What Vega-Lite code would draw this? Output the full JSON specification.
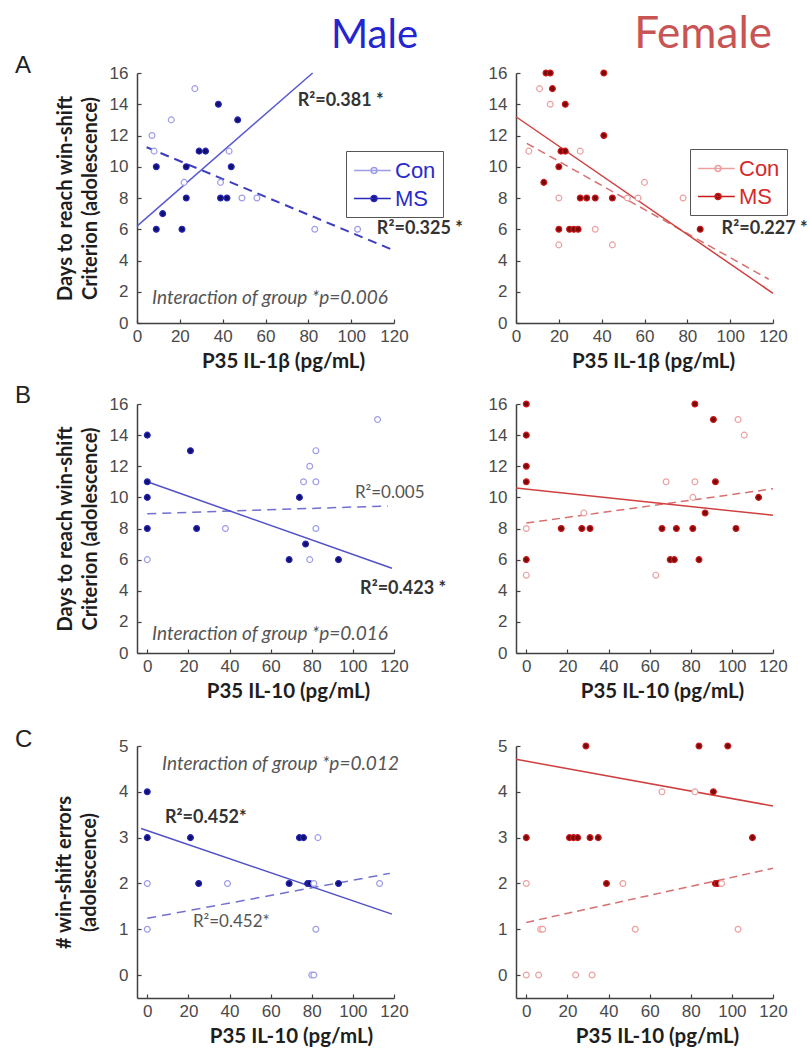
{
"$schema":"https://vega.github.io/schema/vega-lite/v6.json",
"background":"white",
"padding":{"left":15,"top":13,"right":0,"bottom":0},
"config":{
 "view":{"stroke":null},
 "font":"Lato",
 "axis":{"domainColor":"#404040","domainWidth":1.5,"tickColor":"#404040","tickWidth":1.2,"tickSize":-4,"labelFont":"Liberation Sans","labelFontSize":17,"labelColor":"#4a4a4a","titleFont":"Lato","titleFontSize":20.5,"titleFontWeight":"bold","titleColor":"#1e1e1e","grid":false,"labelOverlap":false,"labelFlush":false},
 "axisX":{"labelPadding":9,"titlePadding":7},
 "axisY":{"labelPadding":13,"titleLineHeight":25,"titleFontSize":20}
},
"datasets":{
"pts":[
{"p":"AM","g":"MS","x":9,"y":6},{"p":"AM","g":"MS","x":21,"y":6},{"p":"AM","g":"MS","x":12,"y":7},{"p":"AM","g":"MS","x":9,"y":10},{"p":"AM","g":"MS","x":23,"y":10},{"p":"AM","g":"MS","x":23,"y":8},{"p":"AM","g":"MS","x":29,"y":11},{"p":"AM","g":"MS","x":32,"y":11},{"p":"AM","g":"MS","x":38,"y":14},{"p":"AM","g":"MS","x":47,"y":13},{"p":"AM","g":"MS","x":44,"y":10},{"p":"AM","g":"MS","x":39,"y":8},{"p":"AM","g":"MS","x":42,"y":8},
{"p":"AM","g":"Con","x":27,"y":15},{"p":"AM","g":"Con","x":16,"y":13},{"p":"AM","g":"Con","x":7,"y":12},{"p":"AM","g":"Con","x":8,"y":11},{"p":"AM","g":"Con","x":22,"y":9},{"p":"AM","g":"Con","x":43,"y":11},{"p":"AM","g":"Con","x":39,"y":9},{"p":"AM","g":"Con","x":49,"y":8},{"p":"AM","g":"Con","x":56,"y":8},{"p":"AM","g":"Con","x":83,"y":6},{"p":"AM","g":"Con","x":103,"y":6},
{"p":"AF","g":"MS","x":14,"y":16},{"p":"AF","g":"MS","x":16,"y":16},{"p":"AF","g":"MS","x":17,"y":15},{"p":"AF","g":"MS","x":23,"y":14},{"p":"AF","g":"MS","x":41,"y":16},{"p":"AF","g":"MS","x":41,"y":12},{"p":"AF","g":"MS","x":21,"y":11},{"p":"AF","g":"MS","x":23,"y":11},{"p":"AF","g":"MS","x":20,"y":10},{"p":"AF","g":"MS","x":13,"y":9},{"p":"AF","g":"MS","x":20,"y":6},{"p":"AF","g":"MS","x":25,"y":6},{"p":"AF","g":"MS","x":27,"y":6},{"p":"AF","g":"MS","x":29,"y":6},{"p":"AF","g":"MS","x":30,"y":8},{"p":"AF","g":"MS","x":33,"y":8},{"p":"AF","g":"MS","x":37,"y":8},{"p":"AF","g":"MS","x":45,"y":8},{"p":"AF","g":"MS","x":86,"y":6},
{"p":"AF","g":"Con","x":11,"y":15},{"p":"AF","g":"Con","x":16,"y":14},{"p":"AF","g":"Con","x":6,"y":11},{"p":"AF","g":"Con","x":30,"y":11},{"p":"AF","g":"Con","x":20,"y":8},{"p":"AF","g":"Con","x":20,"y":5},{"p":"AF","g":"Con","x":37,"y":6},{"p":"AF","g":"Con","x":45,"y":5},{"p":"AF","g":"Con","x":52,"y":8},{"p":"AF","g":"Con","x":57,"y":8},{"p":"AF","g":"Con","x":60,"y":9},{"p":"AF","g":"Con","x":78,"y":8},
{"p":"BM","g":"MS","x":0,"y":14},{"p":"BM","g":"MS","x":21,"y":13},{"p":"BM","g":"MS","x":0,"y":11},{"p":"BM","g":"MS","x":0,"y":10},{"p":"BM","g":"MS","x":0,"y":8},{"p":"BM","g":"MS","x":24,"y":8},{"p":"BM","g":"MS","x":74,"y":10},{"p":"BM","g":"MS","x":77,"y":7},{"p":"BM","g":"MS","x":69,"y":6},{"p":"BM","g":"MS","x":93,"y":6},
{"p":"BM","g":"Con","x":112,"y":15},{"p":"BM","g":"Con","x":82,"y":13},{"p":"BM","g":"Con","x":79,"y":12},{"p":"BM","g":"Con","x":76,"y":11},{"p":"BM","g":"Con","x":82,"y":11},{"p":"BM","g":"Con","x":38,"y":8},{"p":"BM","g":"Con","x":82,"y":8},{"p":"BM","g":"Con","x":0,"y":6},{"p":"BM","g":"Con","x":79,"y":6},
{"p":"BF","g":"MS","x":0,"y":16},{"p":"BF","g":"MS","x":0,"y":14},{"p":"BF","g":"MS","x":0,"y":12},{"p":"BF","g":"MS","x":0,"y":11},{"p":"BF","g":"MS","x":0,"y":6},{"p":"BF","g":"MS","x":17,"y":8},{"p":"BF","g":"MS","x":27,"y":8},{"p":"BF","g":"MS","x":31,"y":8},{"p":"BF","g":"MS","x":66,"y":8},{"p":"BF","g":"MS","x":70,"y":6},{"p":"BF","g":"MS","x":72,"y":6},{"p":"BF","g":"MS","x":73,"y":8},{"p":"BF","g":"MS","x":81,"y":8},{"p":"BF","g":"MS","x":82,"y":16},{"p":"BF","g":"MS","x":84,"y":6},{"p":"BF","g":"MS","x":87,"y":9},{"p":"BF","g":"MS","x":91,"y":15},{"p":"BF","g":"MS","x":92,"y":11},{"p":"BF","g":"MS","x":102,"y":8},{"p":"BF","g":"MS","x":113,"y":10},
{"p":"BF","g":"Con","x":0,"y":8},{"p":"BF","g":"Con","x":0,"y":5},{"p":"BF","g":"Con","x":63,"y":5},{"p":"BF","g":"Con","x":68,"y":11},{"p":"BF","g":"Con","x":82,"y":11},{"p":"BF","g":"Con","x":81,"y":10},{"p":"BF","g":"Con","x":103,"y":15},{"p":"BF","g":"Con","x":106,"y":14},{"p":"BF","g":"Con","x":28,"y":9},
{"p":"CM","g":"MS","x":0,"y":4},{"p":"CM","g":"MS","x":0,"y":3},{"p":"CM","g":"MS","x":21,"y":3},{"p":"CM","g":"MS","x":25,"y":2},{"p":"CM","g":"MS","x":74,"y":3},{"p":"CM","g":"MS","x":76,"y":3},{"p":"CM","g":"MS","x":69,"y":2},{"p":"CM","g":"MS","x":78,"y":2},{"p":"CM","g":"MS","x":79,"y":2},{"p":"CM","g":"MS","x":93,"y":2},
{"p":"CM","g":"Con","x":83,"y":3},{"p":"CM","g":"Con","x":0,"y":2},{"p":"CM","g":"Con","x":39,"y":2},{"p":"CM","g":"Con","x":81,"y":2},{"p":"CM","g":"Con","x":113,"y":2},{"p":"CM","g":"Con","x":0,"y":1},{"p":"CM","g":"Con","x":82,"y":1},{"p":"CM","g":"Con","x":80,"y":0},{"p":"CM","g":"Con","x":81,"y":0},
{"p":"CF","g":"MS","x":0,"y":3},{"p":"CF","g":"MS","x":21,"y":3},{"p":"CF","g":"MS","x":23,"y":3},{"p":"CF","g":"MS","x":25,"y":3},{"p":"CF","g":"MS","x":31,"y":3},{"p":"CF","g":"MS","x":35,"y":3},{"p":"CF","g":"MS","x":29,"y":5},{"p":"CF","g":"MS","x":39,"y":2},{"p":"CF","g":"MS","x":84,"y":5},{"p":"CF","g":"MS","x":98,"y":5},{"p":"CF","g":"MS","x":91,"y":4},{"p":"CF","g":"MS","x":92,"y":2},{"p":"CF","g":"MS","x":93,"y":2},{"p":"CF","g":"MS","x":110,"y":3},
{"p":"CF","g":"Con","x":0,"y":2},{"p":"CF","g":"Con","x":7,"y":1},{"p":"CF","g":"Con","x":8,"y":1},{"p":"CF","g":"Con","x":0,"y":0},{"p":"CF","g":"Con","x":6,"y":0},{"p":"CF","g":"Con","x":24,"y":0},{"p":"CF","g":"Con","x":32,"y":0},{"p":"CF","g":"Con","x":47,"y":2},{"p":"CF","g":"Con","x":53,"y":1},{"p":"CF","g":"Con","x":66,"y":4},{"p":"CF","g":"Con","x":82,"y":4},{"p":"CF","g":"Con","x":95,"y":2},{"p":"CF","g":"Con","x":103,"y":1}
],
"fit":[
{"p":"AM","g":"MS","x":0,"y":6.2},{"p":"AM","g":"MS","x":82,"y":16},
{"p":"AM","g":"Con","x":4.5,"y":11.25},{"p":"AM","g":"Con","x":119,"y":4.7},
{"p":"AF","g":"MS","x":0,"y":13.2},{"p":"AF","g":"MS","x":120,"y":1.9},
{"p":"AF","g":"Con","x":5,"y":11.5},{"p":"AF","g":"Con","x":118,"y":2.8},
{"p":"BM","g":"MS","x":0,"y":11.0},{"p":"BM","g":"MS","x":119,"y":5.45},
{"p":"BM","g":"Con","x":0,"y":8.95},{"p":"BM","g":"Con","x":117,"y":9.45},
{"p":"BF","g":"MS","x":-5,"y":10.6},{"p":"BF","g":"MS","x":120,"y":8.85},
{"p":"BF","g":"Con","x":0,"y":8.35},{"p":"BF","g":"Con","x":120,"y":10.55},
{"p":"CM","g":"MS","x":-3,"y":3.2},{"p":"CM","g":"MS","x":119,"y":1.33},
{"p":"CM","g":"Con","x":0,"y":1.24},{"p":"CM","g":"Con","x":118,"y":2.22},
{"p":"CF","g":"MS","x":-5,"y":4.71},{"p":"CF","g":"MS","x":120,"y":3.69},
{"p":"CF","g":"Con","x":0,"y":1.15},{"p":"CF","g":"Con","x":120,"y":2.33}
],
"notes":[
{"p":"AM","k":"b","x":75,"y":14.2,"t":"R²=0.381 *"},
{"p":"AM","k":"b","x":112,"y":6.0,"t":"R²=0.325 *"},
{"p":"AM","k":"i","x":7,"y":1.6,"t":"Interaction of group *p=0.006"},
{"p":"AF","k":"b","x":96,"y":6.0,"t":"R²=0.227 *"},
{"p":"BM","k":"n","x":101,"y":10.3,"t":"R²=0.005"},
{"p":"BM","k":"b","x":103.5,"y":4.1,"t":"R²=0.423 *"},
{"p":"BM","k":"i","x":2.3,"y":1.2,"t":"Interaction of group *p=0.016"},
{"p":"CM","k":"i","x":7.2,"y":4.6,"t":"Interaction of group *p=0.012"},
{"p":"CM","k":"b","x":8.6,"y":3.42,"t":"R²=0.452*"},
{"p":"CM","k":"n","x":22.2,"y":1.16,"t":"R²=0.452*"}
]
},
"vconcat":[
{"hconcat":[
 {"width":257,"height":250,
  "title":{"text":"Male","anchor":"end","frame":"group","dx":24,"offset":8,"fontSize":40,"font":"Lato","fontWeight":"normal","color":"#2424d0"},
  "encoding":{
   "x":{"field":"x","type":"quantitative","scale":{"domain":[0,120],"nice":false,"zero":false},"axis":{"values":[0,20,40,60,80,100,120],"title":"P35 IL-1β (pg/mL)","titleX":146}},
   "y":{"field":"y","type":"quantitative","scale":{"domain":[0,16],"nice":false,"zero":false},"axis":{"values":[0,2,4,6,8,10,12,14,16],"title":["Days to reach win-shift","Criterion (adolescence)"],"titlePadding":9}}},
  "layer":[
   {"data":{"name":"fit"},"transform":[{"filter":"datum.p=='AM' && datum.g=='Con'"}],"mark":{"type":"line","stroke":"#3c3cc0","strokeWidth":2,"strokeDash":[9,6]}},
   {"data":{"name":"fit"},"transform":[{"filter":"datum.p=='AM' && datum.g=='MS'"}],"mark":{"type":"line","stroke":"#5a5ad0","strokeWidth":1.5}},
   {"data":{"name":"pts"},"transform":[{"filter":"datum.p=='AM'"}],"mark":{"type":"point","shape":"circle","opacity":1,"strokeWidth":1.2,"size":34},
    "encoding":{
     "fill":{"field":"g","type":"nominal","scale":{"domain":["Con","MS"],"range":["#ffffff","#10106e"]},"legend":{"orient":"none","legendX":209,"legendY":78,"direction":"vertical","title":null,"symbolType":"M-1,0H2.2M1.0,0A0.26,0.26,0,1,1,0.48,0A0.26,0.26,0,1,1,1.0,0","symbolSize":529,"symbolStrokeWidth":1.5,"labelFontSize":22,"labelFont":"Liberation Sans","labelColor":"#2a2acc","labelOffset":17,"strokeColor":"#555","fillColor":"white","padding":7,"rowPadding":4}},
     "stroke":{"field":"g","type":"nominal","scale":{"domain":["Con","MS"],"range":["#9c9ce8","#2828b8"]},"legend":{"orient":"none","legendX":209,"legendY":78,"direction":"vertical","title":null,"symbolType":"M-1,0H2.2M1.0,0A0.26,0.26,0,1,1,0.48,0A0.26,0.26,0,1,1,1.0,0","symbolSize":529,"symbolStrokeWidth":1.5,"labelFontSize":22,"labelFont":"Liberation Sans","labelColor":"#2a2acc","labelOffset":17,"strokeColor":"#555","fillColor":"white","padding":7,"rowPadding":4}}}},
   {"data":{"name":"notes"},"transform":[{"filter":"datum.p=='AM' && datum.k=='b'"}],"mark":{"type":"text","align":"left","baseline":"middle","font":"Lato","fontSize":18,"fontWeight":"bold","fill":"#333"},"encoding":{"text":{"field":"t"}}},
   {"data":{"name":"notes"},"transform":[{"filter":"datum.p=='AM' && datum.k=='i'"}],"mark":{"type":"text","align":"left","baseline":"middle","font":"Lato","fontSize":19,"fontStyle":"italic","fill":"#555"},"encoding":{"text":{"field":"t"}}}
  ]},
 {"width":257,"height":250,
  "title":{"text":"Female","anchor":"end","frame":"group","dx":-1,"offset":7,"fontSize":44,"font":"Lato","fontWeight":"normal","color":"#c85454"},
  "encoding":{
   "x":{"field":"x","type":"quantitative","scale":{"domain":[0,120],"nice":false,"zero":false},"axis":{"values":[0,20,40,60,80,100,120],"title":"P35 IL-1β (pg/mL)","titleX":137}},
   "y":{"field":"y","type":"quantitative","scale":{"domain":[0,16],"nice":false,"zero":false},"axis":{"values":[0,2,4,6,8,10,12,14,16],"title":null}}},
  "layer":[
   {"data":{"name":"fit"},"transform":[{"filter":"datum.p=='AF' && datum.g=='Con'"}],"mark":{"type":"line","stroke":"#d87070","strokeWidth":1.5,"strokeDash":[8,5]}},
   {"data":{"name":"fit"},"transform":[{"filter":"datum.p=='AF' && datum.g=='MS'"}],"mark":{"type":"line","stroke":"#d04040","strokeWidth":1.5}},
   {"data":{"name":"pts"},"transform":[{"filter":"datum.p=='AF'"}],"mark":{"type":"point","shape":"circle","opacity":1,"strokeWidth":1.2,"size":34},
    "encoding":{
     "fill":{"field":"g","type":"nominal","scale":{"domain":["Con","MS"],"range":["#ffffff","#7a0a0a"]},"legend":{"orient":"none","legendX":174,"legendY":76,"direction":"vertical","title":null,"symbolType":"M-1,0H2.2M1.0,0A0.26,0.26,0,1,1,0.48,0A0.26,0.26,0,1,1,1.0,0","symbolSize":529,"symbolStrokeWidth":1.5,"labelFontSize":22,"labelFont":"Liberation Sans","labelColor":"#d42a2a","labelOffset":17,"strokeColor":"#555","fillColor":"white","padding":7,"rowPadding":4}},
     "stroke":{"field":"g","type":"nominal","scale":{"domain":["Con","MS"],"range":["#eba0a0","#cc1a1a"]},"legend":{"orient":"none","legendX":174,"legendY":76,"direction":"vertical","title":null,"symbolType":"M-1,0H2.2M1.0,0A0.26,0.26,0,1,1,0.48,0A0.26,0.26,0,1,1,1.0,0","symbolSize":529,"symbolStrokeWidth":1.5,"labelFontSize":22,"labelFont":"Liberation Sans","labelColor":"#d42a2a","labelOffset":17,"strokeColor":"#555","fillColor":"white","padding":7,"rowPadding":4}}}},
   {"data":{"name":"notes"},"transform":[{"filter":"datum.p=='AF' && datum.k=='b'"}],"mark":{"type":"text","align":"left","baseline":"middle","font":"Lato","fontSize":18,"fontWeight":"bold","fill":"#333"},"encoding":{"text":{"field":"t"}}}
  ]}
 ],
 "spacing":122,"bounds":"flush",
 "title":{"text":"A","anchor":"start","frame":"group","orient":"top","dx":-122,"dy":65,"offset":0,"fontSize":24,"font":"Liberation Sans","fontWeight":"normal","color":"#222"},
 "resolve":{"scale":{"fill":"independent","stroke":"independent"},"legend":{"fill":"independent","stroke":"independent"}}
},
{"vconcat":[
 {"hconcat":[
  {"width":257,"height":249,
   "encoding":{
    "x":{"field":"x","type":"quantitative","scale":{"domain":[-5,120],"nice":false,"zero":false},"axis":{"values":[0,20,40,60,80,100,120],"title":"P35 IL-10 (pg/mL)","titleX":151}},
    "y":{"field":"y","type":"quantitative","scale":{"domain":[0,16],"nice":false,"zero":false},"axis":{"values":[0,2,4,6,8,10,12,14,16],"title":["Days to reach win-shift","Criterion (adolescence)"],"titlePadding":9}}},
   "layer":[
    {"data":{"name":"fit"},"transform":[{"filter":"datum.p=='BM' && datum.g=='Con'"}],"mark":{"type":"line","stroke":"#7070d0","strokeWidth":1.5,"strokeDash":[9,6]}},
    {"data":{"name":"fit"},"transform":[{"filter":"datum.p=='BM' && datum.g=='MS'"}],"mark":{"type":"line","stroke":"#5050c8","strokeWidth":1.5}},
    {"data":{"name":"pts"},"transform":[{"filter":"datum.p=='BM'"}],"mark":{"type":"point","shape":"circle","opacity":1,"strokeWidth":1.2,"size":34},
     "encoding":{
      "fill":{"field":"g","type":"nominal","scale":{"domain":["Con","MS"],"range":["#ffffff","#10106e"]},"legend":null},
      "stroke":{"field":"g","type":"nominal","scale":{"domain":["Con","MS"],"range":["#9c9ce8","#2828b8"]},"legend":null}}},
    {"data":{"name":"notes"},"transform":[{"filter":"datum.p=='BM' && datum.k=='b'"}],"mark":{"type":"text","align":"left","baseline":"middle","font":"Lato","fontSize":18,"fontWeight":"bold","fill":"#333"},"encoding":{"text":{"field":"t"}}},
    {"data":{"name":"notes"},"transform":[{"filter":"datum.p=='BM' && datum.k=='n'"}],"mark":{"type":"text","align":"left","baseline":"middle","font":"Lato","fontSize":17,"fill":"#555"},"encoding":{"text":{"field":"t"}}},
    {"data":{"name":"notes"},"transform":[{"filter":"datum.p=='BM' && datum.k=='i'"}],"mark":{"type":"text","align":"left","baseline":"middle","font":"Lato","fontSize":19,"fontStyle":"italic","fill":"#555"},"encoding":{"text":{"field":"t"}}}
   ]},
  {"width":257,"height":249,
   "encoding":{
    "x":{"field":"x","type":"quantitative","scale":{"domain":[-5,120],"nice":false,"zero":false},"axis":{"values":[0,20,40,60,80,100,120],"title":"P35 IL-10 (pg/mL)","titleX":146}},
    "y":{"field":"y","type":"quantitative","scale":{"domain":[0,16],"nice":false,"zero":false},"axis":{"values":[0,2,4,6,8,10,12,14,16],"title":null}}},
   "layer":[
    {"data":{"name":"fit"},"transform":[{"filter":"datum.p=='BF' && datum.g=='Con'"}],"mark":{"type":"line","stroke":"#d87070","strokeWidth":1.5,"strokeDash":[8,5]}},
    {"data":{"name":"fit"},"transform":[{"filter":"datum.p=='BF' && datum.g=='MS'"}],"mark":{"type":"line","stroke":"#d04040","strokeWidth":1.5}},
    {"data":{"name":"pts"},"transform":[{"filter":"datum.p=='BF'"}],"mark":{"type":"point","shape":"circle","opacity":1,"strokeWidth":1.2,"size":34},
     "encoding":{
      "fill":{"field":"g","type":"nominal","scale":{"domain":["Con","MS"],"range":["#ffffff","#7a0a0a"]},"legend":null},
      "stroke":{"field":"g","type":"nominal","scale":{"domain":["Con","MS"],"range":["#eba0a0","#cc1a1a"]},"legend":null}}}
   ]}
  ],
  "spacing":122,"bounds":"flush",
  "title":{"text":"B","anchor":"start","frame":"group","orient":"top","dx":-122,"dy":13,"offset":0,"fontSize":24,"font":"Liberation Sans","fontWeight":"normal","color":"#222"},
  "resolve":{"scale":{"fill":"independent","stroke":"independent"},"legend":{"fill":"independent","stroke":"independent"}}
 },
 {"hconcat":[
  {"width":257,"height":252,
   "encoding":{
    "x":{"field":"x","type":"quantitative","scale":{"domain":[-5,120],"nice":false,"zero":false},"axis":{"values":[0,20,40,60,80,100,120],"title":"P35 IL-10 (pg/mL)","titleX":154}},
    "y":{"field":"y","type":"quantitative","scale":{"domain":[-0.5,5],"nice":false,"zero":false},"axis":{"values":[0,1,2,3,4,5],"title":["# win-shift errors","(adolescence)"],"titlePadding":19}}},
   "layer":[
    {"data":{"name":"fit"},"transform":[{"filter":"datum.p=='CM' && datum.g=='Con'"}],"mark":{"type":"line","stroke":"#7070d0","strokeWidth":1.5,"strokeDash":[9,6]}},
    {"data":{"name":"fit"},"transform":[{"filter":"datum.p=='CM' && datum.g=='MS'"}],"mark":{"type":"line","stroke":"#5050c8","strokeWidth":1.5}},
    {"data":{"name":"pts"},"transform":[{"filter":"datum.p=='CM'"}],"mark":{"type":"point","shape":"circle","opacity":1,"strokeWidth":1.2,"size":34},
     "encoding":{
      "fill":{"field":"g","type":"nominal","scale":{"domain":["Con","MS"],"range":["#ffffff","#10106e"]},"legend":null},
      "stroke":{"field":"g","type":"nominal","scale":{"domain":["Con","MS"],"range":["#9c9ce8","#2828b8"]},"legend":null}}},
    {"data":{"name":"notes"},"transform":[{"filter":"datum.p=='CM' && datum.k=='b'"}],"mark":{"type":"text","align":"left","baseline":"middle","font":"Lato","fontSize":18,"fontWeight":"bold","fill":"#333"},"encoding":{"text":{"field":"t"}}},
    {"data":{"name":"notes"},"transform":[{"filter":"datum.p=='CM' && datum.k=='n'"}],"mark":{"type":"text","align":"left","baseline":"middle","font":"Lato","fontSize":17,"fill":"#555"},"encoding":{"text":{"field":"t"}}},
    {"data":{"name":"notes"},"transform":[{"filter":"datum.p=='CM' && datum.k=='i'"}],"mark":{"type":"text","align":"left","baseline":"middle","font":"Lato","fontSize":19,"fontStyle":"italic","fill":"#555"},"encoding":{"text":{"field":"t"}}}
   ]},
  {"width":257,"height":252,
   "encoding":{
    "x":{"field":"x","type":"quantitative","scale":{"domain":[-5,120],"nice":false,"zero":false},"axis":{"values":[0,20,40,60,80,100,120],"title":"P35 IL-10 (pg/mL)","titleX":141}},
    "y":{"field":"y","type":"quantitative","scale":{"domain":[-0.5,5],"nice":false,"zero":false},"axis":{"values":[0,1,2,3,4,5],"title":null}}},
   "layer":[
    {"data":{"name":"fit"},"transform":[{"filter":"datum.p=='CF' && datum.g=='Con'"}],"mark":{"type":"line","stroke":"#d87070","strokeWidth":1.5,"strokeDash":[8,5]}},
    {"data":{"name":"fit"},"transform":[{"filter":"datum.p=='CF' && datum.g=='MS'"}],"mark":{"type":"line","stroke":"#d04040","strokeWidth":1.5}},
    {"data":{"name":"pts"},"transform":[{"filter":"datum.p=='CF'"}],"mark":{"type":"point","shape":"circle","opacity":1,"strokeWidth":1.2,"size":34},
     "encoding":{
      "fill":{"field":"g","type":"nominal","scale":{"domain":["Con","MS"],"range":["#ffffff","#7a0a0a"]},"legend":null},
      "stroke":{"field":"g","type":"nominal","scale":{"domain":["Con","MS"],"range":["#eba0a0","#cc1a1a"]},"legend":null}}}
   ]}
  ],
  "spacing":122,"bounds":"flush",
  "title":{"text":"C","anchor":"start","frame":"group","orient":"top","dx":-122,"dy":15,"offset":0,"fontSize":24,"font":"Liberation Sans","fontWeight":"normal","color":"#222"},
  "resolve":{"scale":{"fill":"independent","stroke":"independent"},"legend":{"fill":"independent","stroke":"independent"}}
 }
 ],
 "spacing":26,"bounds":"full",
 "resolve":{"scale":{"fill":"independent","stroke":"independent"},"legend":{"fill":"independent","stroke":"independent"}}
}
],
"spacing":12,"bounds":"full",
"resolve":{"scale":{"fill":"independent","stroke":"independent"},"legend":{"fill":"independent","stroke":"independent"}}
}
